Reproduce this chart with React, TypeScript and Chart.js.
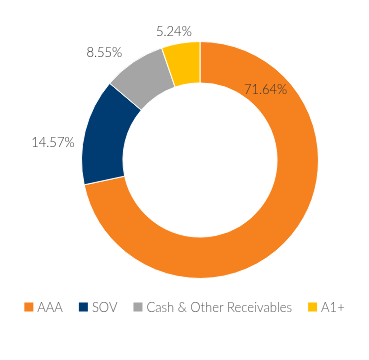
import React, { useEffect, useRef } from "react";
import { Chart, registerables } from "chart.js";

Chart.register(...registerables);

const categories = ["AAA", "SOV", "Cash & Other Receivables", "A1+"];
const values = [71.64, 14.57, 8.55, 5.24];
const valueLabels = ["71.64%", "14.57%", "8.55%", "5.24%"];
const colors = ["#F5821F", "#003B71", "#A5A5A5", "#FFC000"];
// label placement: fraction along the arc, and distance as a multiple of outer radius
const labelArcFraction = [0.167, 0.36, 0.26, 0.39];
const labelRadiusFactor = [0.81, 1.25, 1.215, 1.105];

const FONT = "Lato, 'Open Sans', sans-serif";

const labelPlugin = {
  id: "sliceLabels",
  afterDatasetsDraw(chart: any) {
    const ctx = chart.ctx;
    const meta = chart.getDatasetMeta(0);
    ctx.save();
    ctx.font = `300 13px ${FONT}`;
    ctx.fillStyle = "#333333";
    ctx.textAlign = "center";
    ctx.textBaseline = "middle";
    meta.data.forEach((arc: any, i: number) => {
      const p = arc.getProps(["x", "y", "startAngle", "endAngle", "outerRadius"], true);
      const a = p.startAngle + (p.endAngle - p.startAngle) * labelArcFraction[i];
      const r = p.outerRadius * labelRadiusFactor[i];
      ctx.fillText(valueLabels[i], p.x + Math.cos(a) * r, p.y + Math.sin(a) * r);
    });
    ctx.restore();
  },
};

const legendPlugin = {
  id: "customLegend",
  afterDraw(chart: any) {
    const ctx = chart.ctx;
    const box = 9;
    const gapText = 4;
    const gapItem = 16;
    ctx.save();
    ctx.font = `300 13px ${FONT}`;
    const widths = categories.map((c) => ctx.measureText(c).width);
    const total =
      widths.reduce((s, w) => s + box + gapText + w, 0) + gapItem * (categories.length - 1);
    let x = (chart.width - total) / 2;
    const y = chart.chartArea.bottom + 28;
    ctx.textBaseline = "middle";
    ctx.textAlign = "left";
    categories.forEach((c, i) => {
      ctx.fillStyle = colors[i];
      ctx.fillRect(x, y - box / 2, box, box);
      ctx.fillStyle = "#595959";
      ctx.fillText(c, x + box + gapText, y + 0.5);
      x += box + gapText + widths[i] + gapItem;
    });
    ctx.restore();
  },
};

export default function App() {
  const ref = useRef<HTMLCanvasElement>(null);
  useEffect(() => {
    if (!ref.current) return;
    const chart = new Chart(ref.current, {
      type: "doughnut",
      data: {
        labels: categories,
        datasets: [
          {
            data: values,
            backgroundColor: colors,
            borderColor: "#ffffff",
            borderWidth: 1,
          },
        ],
      },
      options: {
        animation: false,
        responsive: false,
        cutout: "65%",
        layout: { padding: { left: 70, right: 39, top: 41, bottom: 81 } },
        plugins: {
          legend: { display: false },
          tooltip: { enabled: false },
        },
      },
      plugins: [labelPlugin, legendPlugin],
    });
    return () => chart.destroy();
  }, []);
  return (
    <div style={{ position: "fixed", left: 0, top: 0, width: 369, height: 360, background: "#fff" }}>
      <canvas ref={ref} width={369} height={360} style={{ width: 369, height: 360 }} />
    </div>
  );
}
